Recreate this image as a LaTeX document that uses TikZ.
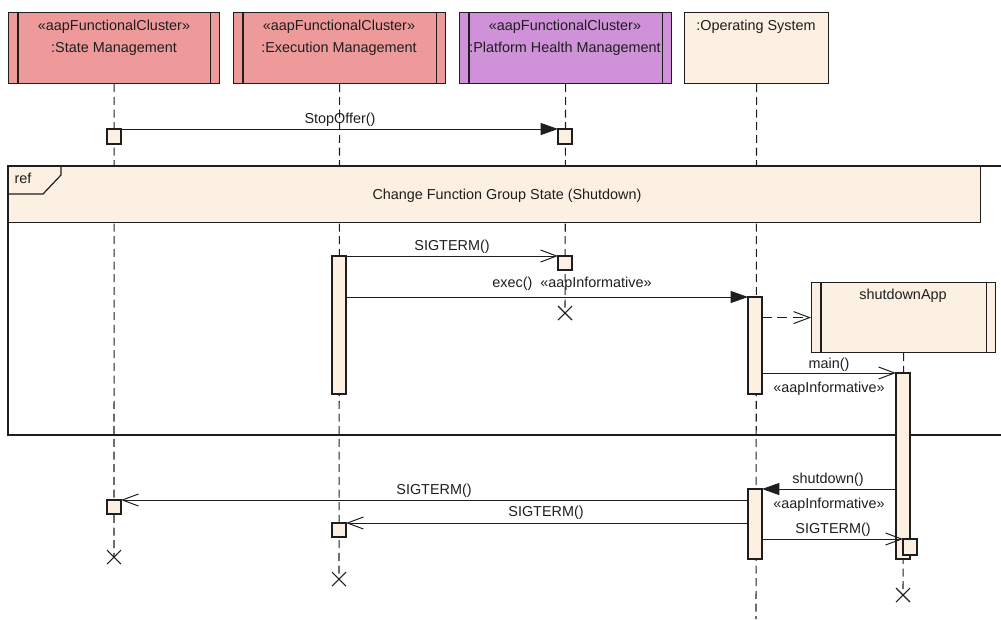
\documentclass[tikz,border=0pt]{standalone}
\usepackage{fontspec}
\setmainfont{Liberation Sans}
\usetikzlibrary{arrows.meta}
\definecolor{fcred}{RGB}{239,154,154}
\definecolor{fcpurple}{RGB}{207,145,215}
\definecolor{cream}{RGB}{251,240,226}
\definecolor{ink}{RGB}{30,30,30}
\begin{document}
\begin{tikzpicture}[x=0.75pt,y=-0.75pt,
  lbl/.style={font=\fontsize{10.8}{12}\selectfont, inner sep=0pt, anchor=base, text=ink},
  lifeline/.style={line width=0.8pt, dash pattern=on 6pt off 3.5pt, draw=ink},
  hdr/.style={draw=ink, line width=0.9pt, minimum height=53.25pt, inner sep=0pt, anchor=north west},
  act/.style={draw=ink, fill=cream, line width=0.9pt, minimum width=10.5pt, inner sep=0pt, outer sep=0pt, anchor=north west},
  msg/.style={draw=ink, line width=0.75pt, -{Triangle[length=13pt,width=9pt]}},
  amsg/.style={draw=ink, line width=0.75pt, -{Straight Barb[length=12pt,width=9pt]}},
  xmark/.style={draw=ink, line width=0.8pt},
  frameline/.style={draw=ink, line width=0.9pt}
]
\useasboundingbox (0,0) rectangle (1001,619);

% outer frame
\coordinate (ofA) at (1001,166);
\coordinate (ofB) at (8,166);
\coordinate (ofC) at (8,435);
\coordinate (ofD) at (1001,435);
\draw[frameline] (ofA) -- (ofB) -- (ofC) -- (ofD);

% headers
\node[hdr, fill=fcred, minimum width=158.25pt] (sm) at (8,12) {};
\node[hdr, fill=fcred, minimum width=159pt] (em) at (233,12) {};
\node[hdr, fill=fcpurple, minimum width=159pt] (phm) at (459,12) {};
\node[hdr, fill=cream, minimum width=108pt] (os) at (684,12) {};
\foreach \n in {sm,em,phm}{
  \draw[draw=ink, line width=0.9pt] ([xshift=7.5pt]\n.north west) -- ([xshift=7.5pt]\n.south west);
  \draw[draw=ink, line width=0.9pt] ([xshift=-7.5pt]\n.north east) -- ([xshift=-7.5pt]\n.south east);
}
\node[lbl] (smS) at (114,30) {«aapFunctionalCluster»};
\node[lbl] (smN) at (114,52) {:State Management};
\node[lbl] (emS) at (339,30) {«aapFunctionalCluster»};
\node[lbl] (emN) at (339,52) {:Execution Management};
\node[lbl] (phmS) at (565,30) {«aapFunctionalCluster»};
\node[lbl] (phmN) at (565,52) {:Platform Health Management};
\node[lbl] (osN) at (756,30) {:Operating System};

% end points of lifelines
\coordinate (smEnd) at (114,557);
\coordinate (emEnd) at (339,579);
\coordinate (phmEnd) at (565,313);
\coordinate (osEnd) at (756,619);
\coordinate (appEnd) at (903,595);

% shutdownApp box
\node[hdr, fill=cream, minimum width=138pt, minimum height=52.5pt] (app) at (811,282) {};
\draw[draw=ink, line width=0.9pt] ([xshift=7.5pt]app.north west) -- ([xshift=7.5pt]app.south west);
\draw[draw=ink, line width=0.9pt] ([xshift=-7.5pt]app.north east) -- ([xshift=-7.5pt]app.south east);
\node[lbl] (appN) at (903,299) {shutdownApp};

% lifelines
\draw[lifeline] (sm.south) -- (smEnd);
\draw[lifeline] (em.south) -- (emEnd);
\draw[lifeline] (phm.south) -- (phmEnd);
\draw[lifeline] (os.south) -- (osEnd);
\draw[lifeline] (app.south) -- (appEnd);

% destruction marks
\foreach \c in {smEnd,emEnd,phmEnd,appEnd}{
  \draw[xmark] (\c) +(-7,-7) -- +(7,7);
  \draw[xmark] (\c) +(-7,7) -- +(7,-7);
}

% ref frame
\node[draw=ink, fill=cream, line width=0.9pt, anchor=north west, minimum width=729pt, minimum height=42pt, inner sep=0pt] (ref) at (8,166) {};
\draw[draw=ink, line width=0.9pt] (ref.north west) -- ++(53,0) -- ++(0,9) -- ++(-18,19) -- ++(-35,0);
\node[lbl] (refT) at (23,183) {ref};
\node[lbl] (refN) at (507,199) {Change Function Group State (Shutdown)};

% activations
\node[act, minimum height=11.25pt] (smA) at (107,129) {};
\node[act, minimum height=11.25pt] (phmA) at (558,129) {};
\node[act, minimum height=103.5pt] (emBar) at (332,256) {};
\node[act, minimum height=10.5pt] (phmB) at (558,256) {};
\node[act, minimum height=72.75pt] (osBar1) at (748,297) {};
\node[act, minimum height=139.5pt] (appBar) at (896,373) {};
\node[act, minimum height=52.5pt] (osBar2) at (748,489) {};
\node[act, minimum height=10.5pt] (smB) at (107,500) {};
\node[act, minimum height=10.5pt] (emB) at (332,523) {};
\node[act, minimum height=12pt] (appB) at (903,539) {};

% messages
\draw[msg] (smA.north east) -- (phmA.north west);
\draw[amsg] (emBar.north east) -- (phmB.north west);
\draw[msg] (emBar.east |- osBar1.north) -- (osBar1.north west);
\draw[amsg, dash pattern=on 7.5pt off 4pt] (osBar1.east |- app.west) -- (app.west);
\draw[amsg] (osBar1.east |- appBar.north) -- (appBar.north west);
\draw[msg] (appBar.west |- osBar2.north) -- (osBar2.north east);
\draw[amsg] (osBar2.east |- appB.north) -- (appB.north west);
\draw[amsg] (osBar2.west |- smB.north) -- (smB.north east);
\draw[amsg] (osBar2.west |- emB.north) -- (emB.north east);

% labels
\node[lbl] (l1) at (340,123) {StopOffer()};
\node[lbl] (l2) at (452,250) {SIGTERM()};
\node[lbl] (l3) at (572,287) {exec()\hspace{3pt} «aapInformative»};
\node[lbl] (l4) at (829,368) {main()};
\node[lbl] (l5) at (829,392) {«aapInformative»};
\node[lbl] (l6) at (828,483) {shutdown()};
\node[lbl] (l7) at (829,508) {«aapInformative»};
\node[lbl] (l8) at (833,533) {SIGTERM()};
\node[lbl] (l9) at (434,494) {SIGTERM()};
\node[lbl] (l10) at (546,516) {SIGTERM()};
\end{tikzpicture}
\end{document}
